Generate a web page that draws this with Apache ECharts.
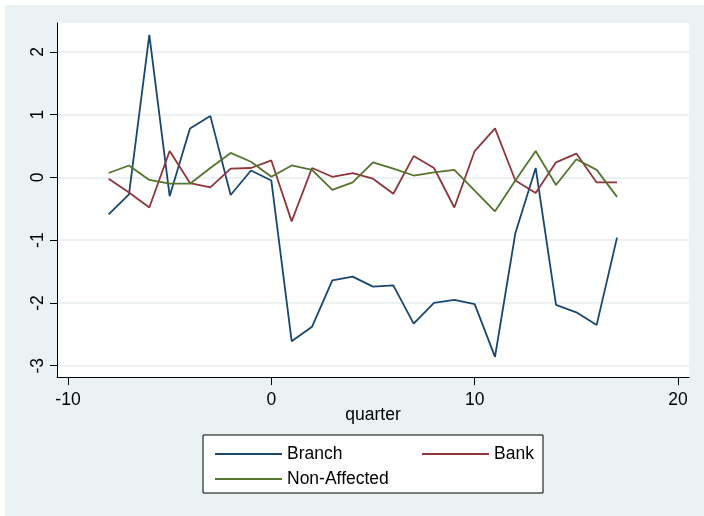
<!DOCTYPE html>
<html>
<head>
<meta charset="utf-8">
<script src="https://cdn.jsdelivr.net/npm/echarts@6/dist/echarts.min.js"></script>
<style>
html,body{margin:0;padding:0;background:#fff;}
#chart{width:704px;height:516px;}
</style>
</head>
<body>
<div id="chart"></div>
<script>
const quarters = [-8,-7,-6,-5,-4,-3,-2,-1,0,1,2,3,4,5,6,7,8,9,10,11,12,13,14,15,16,17];
const branch = [-0.59,-0.27,2.27,-0.30,0.78,0.98,-0.28,0.11,-0.05,-2.61,-2.38,-1.64,-1.58,-1.74,-1.72,-2.33,-2.00,-1.95,-2.02,-2.86,-0.89,0.15,-2.03,-2.15,-2.35,-0.96];
const bank = [-0.02,-0.24,-0.48,0.42,-0.09,-0.16,0.14,0.15,0.27,-0.70,0.15,0.01,0.07,-0.02,-0.26,0.34,0.15,-0.48,0.42,0.78,-0.05,-0.25,0.24,0.38,-0.08,-0.08];
const nonAffected = [0.07,0.19,-0.04,-0.10,-0.10,0.15,0.39,0.25,0.01,0.19,0.12,-0.20,-0.08,0.24,0.14,0.03,0.08,0.12,-0.21,-0.54,-0.05,0.42,-0.12,0.29,0.12,-0.31];
const xTicks = [-10,0,10,20];
const yTicks = [-3,-2,-1,0,1,2];
const seriesNames = ['Branch','Bank','Non-Affected'];
const colors = ['#1a476f','#90353b','#55752f'];

const font = 'Liberation Sans, Arial, sans-serif';
const pairs = arr => quarters.map((q,i)=>[q, arr[i]]);
const chart = echarts.init(document.getElementById('chart'), null, {renderer:'canvas'});
const lineSeries = (name, arr, color) => ({
  name, type:'line', data: pairs(arr), symbol:'none', clip:false,
  lineStyle:{color, width:1.8}, itemStyle:{color}, z:3
});
chart.setOption({
  backgroundColor:'#ffffff',
  animation:false,
  graphic:{elements:[
    {type:'rect', shape:{x:5,y:5,width:699,height:511}, style:{fill:'#EAF2F3'}, z:-100, silent:true},
    {type:'rect', shape:{x:203,y:435,width:340,height:58}, style:{fill:'#ffffff', stroke:'#000', lineWidth:1}, z:-50, silent:true}
  ]},
  grid:{left:57, right:15, top:23, bottom:139, show:true, backgroundColor:'#ffffff', borderWidth:0},
  xAxis:{
    type:'value', min:-10.54, max:20.54,
    name:'quarter', nameLocation:'middle', nameGap:29, nameMoveOverlap:false,
    nameTextStyle:{fontFamily:font, fontSize:17.5, color:'#000'},
    axisLine:{show:true, onZero:false, lineStyle:{color:'#000', width:1}},
    axisTick:{show:true, length:8, customValues:xTicks, lineStyle:{color:'#000'}},
    axisLabel:{customValues:xTicks, margin:14, fontFamily:font, fontSize:17.5, color:'#000'},
    splitLine:{show:false}
  },
  yAxis:{
    type:'value', min:-3.18, max:2.46,
    axisLine:{show:true, onZero:false, lineStyle:{color:'#000', width:1}},
    axisTick:{show:true, length:7, customValues:yTicks, lineStyle:{color:'#000'}},
    axisLabel:{customValues:yTicks, rotate:90, margin:10, fontFamily:font, fontSize:17.5, color:'#000'},
    splitLine:{show:true, lineStyle:{color:'#E6EEF0', width:1.5}}
  },
  legend:[
    {data:['Branch','Non-Affected'], orient:'vertical', left:210, top:440, itemWidth:67, itemHeight:2, itemGap:7, icon:'rect',
     textStyle:{fontFamily:font, fontSize:17.5, color:'#000'}, z:10},
    {data:['Bank'], orient:'vertical', left:417, top:440, itemWidth:67, itemHeight:2, icon:'rect',
     textStyle:{fontFamily:font, fontSize:17.5, color:'#000'}, z:10}
  ],
  series:[
    lineSeries(seriesNames[0], branch, colors[0]),
    lineSeries(seriesNames[1], bank, colors[1]),
    lineSeries(seriesNames[2], nonAffected, colors[2])
  ]
});
</script>
</body>
</html>
